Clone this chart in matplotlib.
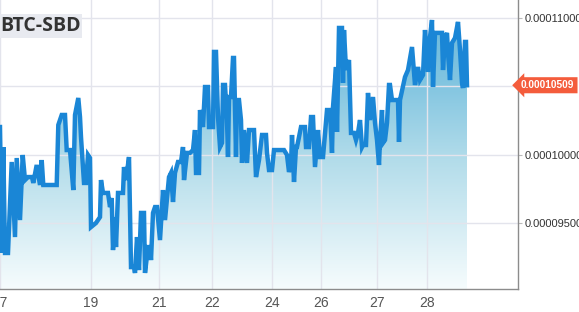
import numpy as np
import matplotlib
matplotlib.use('Agg')
import matplotlib.pyplot as plt
import matplotlib.transforms as mtr
from matplotlib.colors import LinearSegmentedColormap
from matplotlib.ticker import FuncFormatter

# sample positions on the (ordinal) time axis and BTC-SBD price in 1e-8 BTC
t = [0, 2, 3.3, 5, 8, 11.7, 15, 16.7, 20, 22.7, 25, 28, 32, 33.3, 36.7, 40, 41.7, 43.3,
     56.7, 58.3, 61.7, 65, 66.7, 70, 73.3, 75, 78.3, 80, 81, 84, 86, 88, 90, 91, 96,
     100, 101, 103, 108, 110, 111.7, 113, 115, 116, 118, 123, 124, 126, 129, 131, 134,
     135, 137, 139, 141, 144, 145, 148, 150, 151, 153, 155, 157, 160, 163, 165, 169,
     171, 173, 175, 178, 181, 183, 184, 187, 190, 193, 195, 196, 199, 200, 203, 205,
     208, 209, 213, 214, 216, 218, 220, 222, 223, 225, 227, 228, 229, 231, 233, 234,
     236, 237, 239, 241, 242, 244, 247, 249, 254, 256, 259, 262, 266, 267, 269, 272,
     274, 284, 287, 289, 291, 292, 294, 296, 297, 301, 305, 306, 309, 311, 313, 315,
     318, 320, 323, 327, 330, 332, 333, 336, 337, 339, 342, 343, 344, 346, 349, 351,
     354, 356, 358, 360, 362, 363, 366, 368, 370, 373, 375, 377, 378, 379, 380, 382,
     383, 385, 387, 389, 390, 392, 398, 399, 400, 405, 408, 412, 415, 418, 420, 423,
     425, 427, 428, 430, 432, 433, 435, 442, 443, 445, 447, 448, 450, 452, 455, 458,
     460, 462, 463, 465, 466, 467]
price = [10204, 9285, 10058, 9285, 9285, 9949, 9401, 9978, 9525, 10000, 9817, 9839, 9839,
         9796, 9927, 9781, 9963, 9781, 9781, 10219, 10292, 10292, 10036, 10036, 9744,
         10292, 10416, 10277, 10131, 9796, 9796, 10000, 9978, 9474, 9504, 9547, 9817,
         9723, 9723, 9620, 9686, 9306, 9547, 9328, 9723, 9723, 9912, 9817, 9985, 9182,
         9182, 9139, 9401, 9160, 9577, 9577, 9139, 9328, 9328, 9233, 9577, 9620, 9620,
         9379, 9744, 9525, 9839, 9869, 9657, 9869, 9949, 9949, 10058, 9817, 10015, 10015,
         10036, 10182, 9869, 9869, 10328, 10204, 10496, 10496, 10204, 10204, 10752, 10752,
         10277, 10058, 10088, 10511, 10511, 10255, 9985, 10423, 10423, 10708, 10708, 9985,
         10401, 10401, 10255, 9942, 10182, 9942, 10182, 10182, 9839, 9963, 10146, 10146,
         10015, 9890, 9890, 10036, 10036, 10000, 9876, 9927, 10146, 9803, 10058, 10058,
         10204, 10204, 10058, 10058, 10277, 10277, 9912, 10182, 9985, 9985, 10328, 10328,
         10015, 10350, 10642, 10168, 10927, 10927, 10526, 10912, 10620, 10693, 10161,
         10161, 10109, 10161, 10255, 10058, 10073, 10073, 10453, 10255, 10423, 10234,
         10109, 10015, 9927, 10109, 10328, 10088, 10109, 10234, 10511, 10511, 10401,
         10401, 10095, 10401, 10569, 10620, 10788, 10511, 10642, 10547, 10584, 10912,
         10730, 10606, 10861, 10985, 10496, 10891, 10891, 10620, 10854, 10891, 10745,
         10547, 10818, 10854, 10971, 10766, 10526, 10489, 10825, 10825, 10509]

# volume spikes: position, volume, up/down
vol_t = [10, 15, 31, 42, 57, 60, 75, 77, 84, 92, 108, 118, 131, 136, 142, 150, 153, 160,
         168, 175, 182, 190, 204, 218, 238, 240, 247, 255, 262, 271, 280, 297, 300, 310,
         318, 321, 323, 330, 333, 343, 355, 357, 360, 368, 377, 387, 390, 393, 396, 398,
         403, 408, 414, 418, 425, 428, 433, 436, 440, 450, 457, 460, 463]
vol = [12, 12, 60, 12, 60, 24, 48, 96, 36, 12, 48, 24, 252, 12, 24, 24, 36, 36, 48, 24,
       24, 12, 24, 12, 24, 204, 24, 12, 12, 48, 12, 108, 48, 12, 36, 48, 24, 24, 24, 12,
       24, 48, 12, 12, 12, 144, 24, 24, 36, 24, 96, 12, 156, 180, 24, 24, 12, 96, 12, 12,
       36, 60, 24]
vol_up = [1, 1, 0, 1, 1, 1, 1, 1, 0, 1, 0, 1, 0, 1, 1, 1, 1, 0, 1, 1, 1, 1, 1, 1, 1, 0,
          1, 1, 1, 0, 1, 1, 0, 1, 0, 1, 1, 1, 1, 1, 1, 1, 0, 1, 0, 1, 1, 0, 1, 1, 1, 1, 0,
          1, 1, 1, 1, 0, 1, 1, 1, 0, 0]

tick_pos = [0, 90.7, 159, 212, 271.7, 321, 377, 427]
tick_lab = ['17', '19', '21', '22', '24', '26', '27', '28']
y_ticks = [9500, 10000, 10500, 11000]

ymin, ymax = 9022, 11131
xmax = 518

fig = plt.figure(figsize=(5.79, 3.12), dpi=100)
ax = fig.add_axes([0, 23 / 312, 518 / 579, 289 / 312])
ax.set_xlim(0, xmax)
ax.set_ylim(ymin, ymax)

# gradient area under the line
fill = ax.fill_between(t, price, ymin, facecolor='none', edgecolor='none')
cmap = LinearSegmentedColormap.from_list(
    'area', [(0, '#f6fcfd'), (0.45, '#b2dcea'), (0.7, '#84c6e1'), (1, '#62b5dc')])
grad = np.linspace(0, 1, 256).reshape(-1, 1)
img = ax.imshow(grad, cmap=cmap, origin='lower', aspect='auto',
                extent=[0, t[-1], ymin, ymax], zorder=0.5)
img.set_clip_path(fill.get_paths()[0], transform=ax.transData)

ax.plot(t, price, color='#1a86d6', lw=3.2, solid_joinstyle='miter', zorder=3)

# grid + axes styling
ax.set_xticks(tick_pos)
ax.set_xticklabels(tick_lab)
ax.set_yticks(y_ticks)
ax.yaxis.set_major_formatter(FuncFormatter(
    lambda v, p: '' if v == 10500 else '%.8f' % (v * 1e-8)))
ax.grid(True, color='#e3e4ec', lw=1, zorder=1.5)
ax.yaxis.tick_right()
for s in ['top', 'left']:
    ax.spines[s].set_visible(False)
for s in ['right', 'bottom']:
    ax.spines[s].set_color('#8c8c8c')
    ax.spines[s].set_linewidth(1)
ax.tick_params(axis='x', length=0, pad=5, labelsize=10, labelcolor='#555555')
ax.tick_params(axis='y', length=3, width=0.8, color='#bbbbbb', pad=1.5,
               labelsize=8, labelcolor='#333333')
for lab in ax.get_xticklabels() + ax.get_yticklabels():
    lab.set_family('Liberation Sans')

# volume bars
vax = fig.add_axes(ax.get_position(), sharex=ax)
vax.set_ylim(0, 3468)
vax.axis('off')
vax.bar(vol_t, vol, width=0.8,
        color=['#80d4b2' if u else '#e79b9b' for u in vol_up], zorder=2)

# title
fig.text(0.0, 1 - 26 / 312, 'BTC-SBD', fontsize=14, fontweight='bold',
         family='Open Sans', color='#333333', va='center', ha='left',
         bbox=dict(facecolor='#e8eaf0', edgecolor='none', pad=1.2))

# last price tag
trans = mtr.blended_transform_factory(ax.transAxes, ax.transData)
ax.text(1.006, price[-1], '%.8f' % (price[-1] * 1e-8), transform=trans,
        fontsize=7.3, fontweight='bold', family='Liberation Sans', color='white',
        va='center', ha='left', clip_on=False, zorder=5,
        bbox=dict(boxstyle='larrow,pad=0.3', facecolor='#f45c3c', edgecolor='none'))

fig.savefig('out.png', dpi=100)
